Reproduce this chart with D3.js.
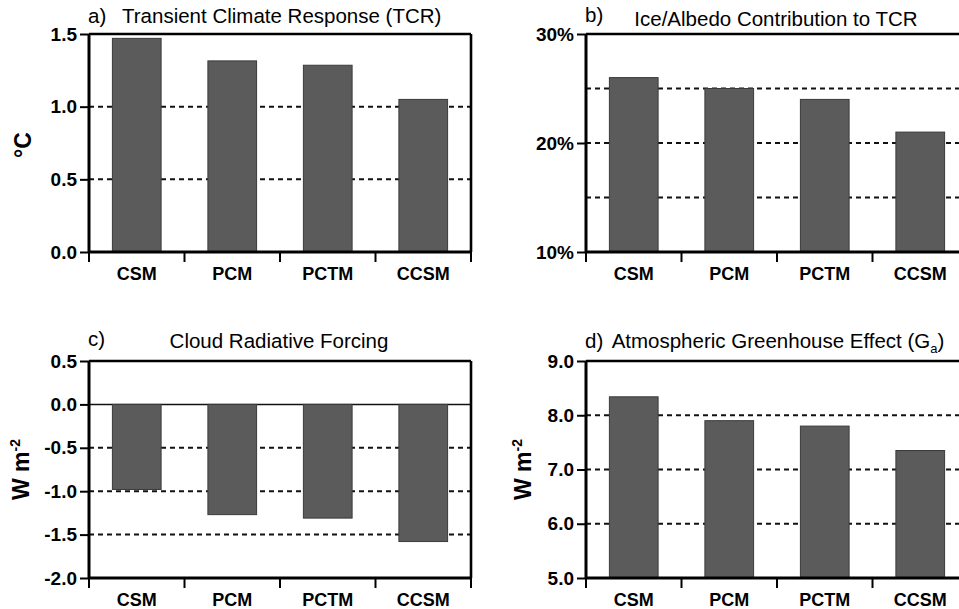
<!DOCTYPE html>
<html>
<head>
<meta charset="utf-8">
<script src="https://cdn.jsdelivr.net/npm/d3@7"></script>
<style>
  body { margin: 0; background: #fff; }
  svg { display: block; font-family: "Liberation Sans", Arial, Helvetica, sans-serif; }
</style>
</head>
<body>
<svg id="chart" width="959" height="609"></svg>
<script>
// models on the x axis
const categories = ["CSM", "PCM", "PCTM", "CCSM"];

// a) transient climate response (deg C)
const tcrValues = [1.47, 1.315, 1.285, 1.05];
const tcrTicks = [0, 0.5, 1.0, 1.5];
const tcrGrid = [0.5, 1.0];

// b) ice/albedo contribution (%)
const iceValues = [26, 25, 24, 21];
const iceTicks = [10, 20, 30];
const iceGrid = [15, 20, 25];

// c) cloud radiative forcing (W m-2)
const cloudValues = [-0.98, -1.27, -1.31, -1.58];
const cloudTicks = [-2.0, -1.5, -1.0, -0.5, 0.0, 0.5];
const cloudGrid = [-1.5, -1.0, -0.5];

// d) atmospheric greenhouse effect (W m-2)
const ghValues = [8.34, 7.9, 7.8, 7.35];
const ghTicks = [5, 6, 7, 8, 9];
const ghGrid = [6, 7, 8];

const svg = d3.select("#chart");
const barColor = "#5b5b5b";

const panels = [
  { x: 89, y: 34, w: 382, h: 218, values: tcrValues, domain: [0, 1.5], ticks: tcrTicks, grid: tcrGrid,
    fmt: d => d.toFixed(1), letter: "a)", title: "Transient Climate Response (TCR)", titleX: 122, titleY: 23,
    anchor: "start", letterY: 23, ylab: "°C", ylabX: 24 },
  { x: 586, y: 34, w: 382, h: 218, values: iceValues, domain: [10, 30], ticks: iceTicks, grid: iceGrid,
    fmt: d => d + "%", letter: "b)", title: "Ice/Albedo Contribution to TCR", titleX: 776, titleY: 26,
    letterY: 22, ylab: null },
  { x: 89, y: 361, w: 382, h: 217, values: cloudValues, domain: [-2, 0.5], ticks: cloudTicks, grid: cloudGrid,
    fmt: d => d.toFixed(1), letter: "c)", title: "Cloud Radiative Forcing", titleX: 279, titleY: 348,
    letterY: 346, ylab: "wm2", ylabX: 22, zero: true },
  { x: 586, y: 361, w: 382, h: 217, values: ghValues, domain: [5, 9], ticks: ghTicks, grid: ghGrid,
    fmt: d => d.toFixed(1), letter: "d)", title: "Atmospheric Greenhouse Effect (G", titleX: 778, titleY: 348,
    letterY: 348, ylab: "wm2", ylabX: 524, sub: "a" }
];

panels.forEach(p => {
  const g = svg.append("g");
  const x = d3.scaleBand().domain(categories).range([p.x, p.x + p.w]).padding(0);
  const y = d3.scaleLinear().domain(p.domain).range([p.y + p.h, p.y]);
  const base = p.zero ? 0 : p.domain[0];
  const bw = x.bandwidth() * 0.51;

  // dashed grid lines (behind bars)
  g.selectAll("line.grid")
    .data(p.grid)
    .enter()
    .append("line")
    .attr("x1", p.x).attr("x2", p.x + p.w)
    .attr("y1", d => y(d)).attr("y2", d => y(d))
    .attr("stroke", "#111")
    .attr("stroke-width", 2)
    .attr("stroke-dasharray", "5,4");

  // zero line for panel c
  if (p.zero) {
    g.append("line")
      .attr("x1", p.x).attr("x2", p.x + p.w)
      .attr("y1", y(0)).attr("y2", y(0))
      .attr("stroke", "#111")
      .attr("stroke-width", 1.5);
  }

  // bars
  g.selectAll("rect.bar")
    .data(p.values)
    .enter()
    .append("rect")
    .attr("x", (d, i) => x(categories[i]) + (x.bandwidth() - bw) / 2)
    .attr("y", d => y(Math.max(d, base)))
    .attr("width", bw)
    .attr("height", d => Math.abs(y(d) - y(base)))
    .attr("fill", barColor)
    .attr("stroke", "#3a3a3a")
    .attr("stroke-width", 1);

  // frame: top & right
  g.append("line").attr("x1", p.x).attr("x2", p.x + p.w).attr("y1", p.y).attr("y2", p.y)
    .attr("stroke", "#000").attr("stroke-width", 2.6);
  g.append("line").attr("x1", p.x + p.w).attr("x2", p.x + p.w).attr("y1", p.y).attr("y2", p.y + p.h)
    .attr("stroke", "#000").attr("stroke-width", 2.6);

  // y axis
  const yAxis = d3.axisLeft(y).tickValues(p.ticks).tickFormat(p.fmt).tickSize(9).tickPadding(3);
  const ya = g.append("g").attr("transform", `translate(${p.x},0)`).call(yAxis);
  ya.select(".domain").attr("stroke-width", 3).attr("d", `M0,${p.y}V${p.y + p.h}`);
  ya.selectAll(".tick line").attr("stroke-width", 2);
  ya.selectAll(".tick text")
    .attr("font-size", 19).attr("font-weight", "bold").attr("fill", "#000")
    .attr("font-family", "'Liberation Sans', Arial, sans-serif");

  // x axis: ticks at band edges
  const xa = g.append("g");
  xa.append("line").attr("x1", p.x).attr("x2", p.x + p.w).attr("y1", p.y + p.h).attr("y2", p.y + p.h)
    .attr("stroke", "#000").attr("stroke-width", 3);
  const edges = categories.map(c => x(c)).concat([p.x + p.w]);
  xa.selectAll("line.edge")
    .data(edges)
    .enter()
    .append("line")
    .attr("x1", d => d).attr("x2", d => d)
    .attr("y1", p.y + p.h).attr("y2", p.y + p.h + 10)
    .attr("stroke", "#000").attr("stroke-width", 2);
  xa.selectAll("text.cat")
    .data(categories)
    .enter()
    .append("text")
    .attr("x", d => x(d) + x.bandwidth() / 2)
    .attr("y", p.y + p.h + 28)
    .attr("text-anchor", "middle")
    .attr("font-size", 18)
    .attr("font-weight", "bold")
    .text(d => d);

  // panel letter and title
  g.append("text").attr("x", p.x - 1).attr("y", p.letterY)
    .attr("font-size", 20.5).text(p.letter);
  const t = g.append("text").attr("x", p.titleX).attr("y", p.titleY)
    .attr("text-anchor", p.anchor || "middle")
    .attr("font-size", 20.5).text(p.title);
  if (p.sub) {
    t.append("tspan").attr("font-size", 13).attr("dy", 5).text(p.sub);
    t.append("tspan").attr("dy", -5).text(")");
  }

  // y label
  if (p.ylab === "°C") {
    g.append("text")
      .attr("transform", `translate(${p.ylabX + 7},${p.y + p.h / 2 + 2}) rotate(-90)`)
      .attr("text-anchor", "middle")
      .attr("font-size", 23).attr("font-weight", "bold")
      .text("°C");
  } else if (p.ylab === "wm2") {
    const yl = g.append("text")
      .attr("transform", `translate(${p.ylabX + 7},${p.y + p.h / 2}) rotate(-90)`)
      .attr("text-anchor", "middle")
      .attr("font-size", 23).attr("font-weight", "bold");
    yl.append("tspan").text("W m");
    yl.append("tspan").attr("font-size", 14).attr("dy", -9).text("-2");
  }
});
</script>
</body>
</html>
